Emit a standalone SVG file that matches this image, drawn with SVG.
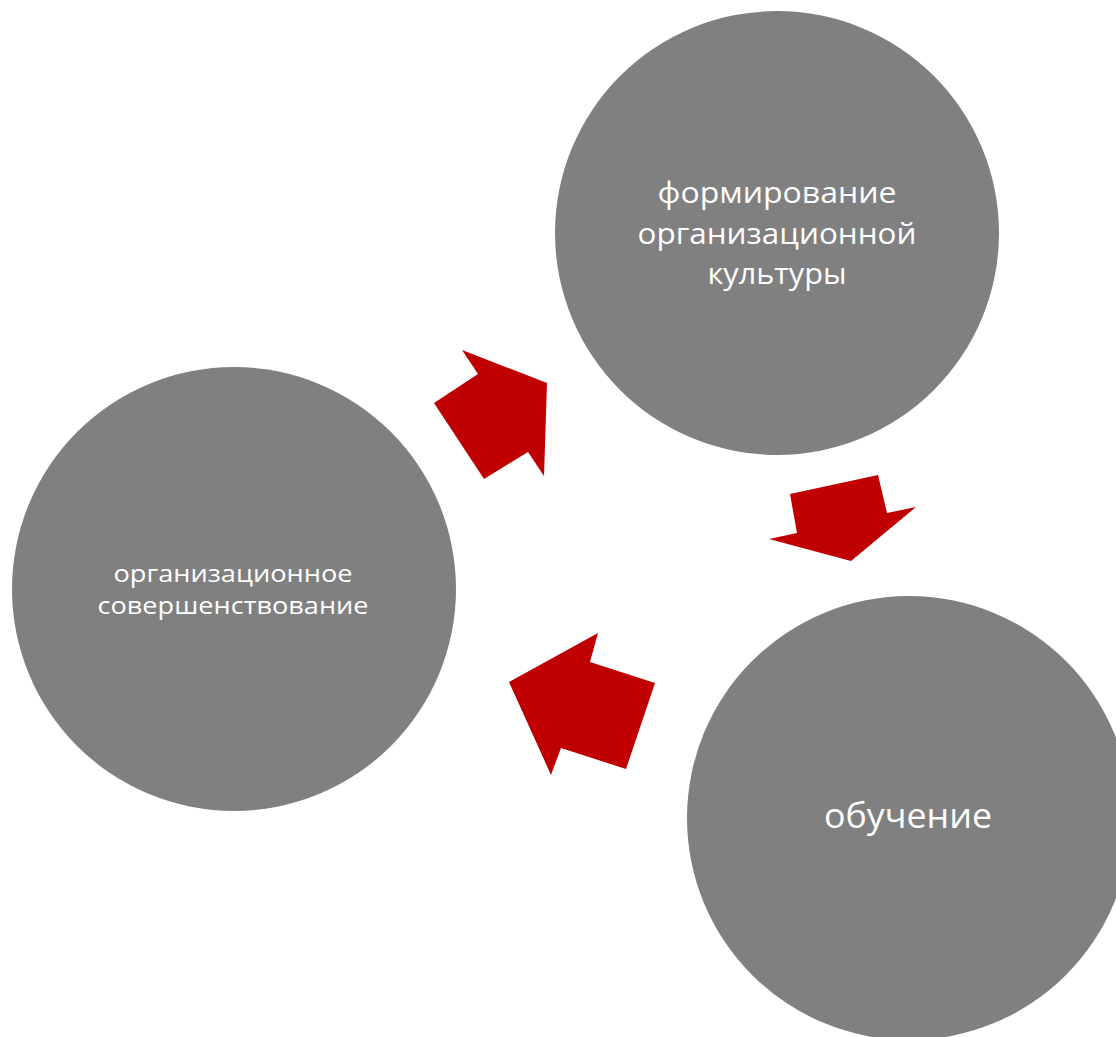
<svg xmlns="http://www.w3.org/2000/svg" width="1116" height="1037" viewBox="0 0 1116 1037">
<style>
.node{fill:#808080}
.arrow{fill:#C00000}
.lbl{fill:#ffffff;font-family:"Open Sans","Noto Sans","Liberation Sans",sans-serif;text-anchor:middle}
</style>
<rect width="1116" height="1037" fill="#ffffff"/>
<g id="node-culture">
<circle class="node" cx="777" cy="233" r="222"/>
<text class="lbl" font-size="29" x="777" y="203" textLength="239" lengthAdjust="spacingAndGlyphs">формирование</text>
<text class="lbl" font-size="29" x="777" y="244" textLength="279" lengthAdjust="spacingAndGlyphs">организационной</text>
<text class="lbl" font-size="29" x="777" y="284" textLength="139" lengthAdjust="spacingAndGlyphs">культуры</text>
</g>
<g id="node-learning">
<circle class="node" cx="909" cy="818" r="222"/>
<text class="lbl" font-size="35" x="908" y="828" textLength="168" lengthAdjust="spacingAndGlyphs">обучение</text>
</g>
<g id="node-improvement">
<circle class="node" cx="234" cy="589" r="222"/>
<text class="lbl" font-size="24" x="233" y="582" textLength="239" lengthAdjust="spacingAndGlyphs">организационное</text>
<text class="lbl" font-size="24" x="233" y="614" textLength="271" lengthAdjust="spacingAndGlyphs">совершенствование</text>
</g>
<g id="connectors">
<polygon class="arrow" points="462,350 547,383 544,476 528,452 484,479 434,403 478,374"/>
<polygon class="arrow" points="790,494 878,475 887,513 916,507 851,561 769,539 797,533"/>
<polygon class="arrow" points="598,633 590,662 655,683 626,769 561,748 551,775 509,682"/>
</g>
</svg>
